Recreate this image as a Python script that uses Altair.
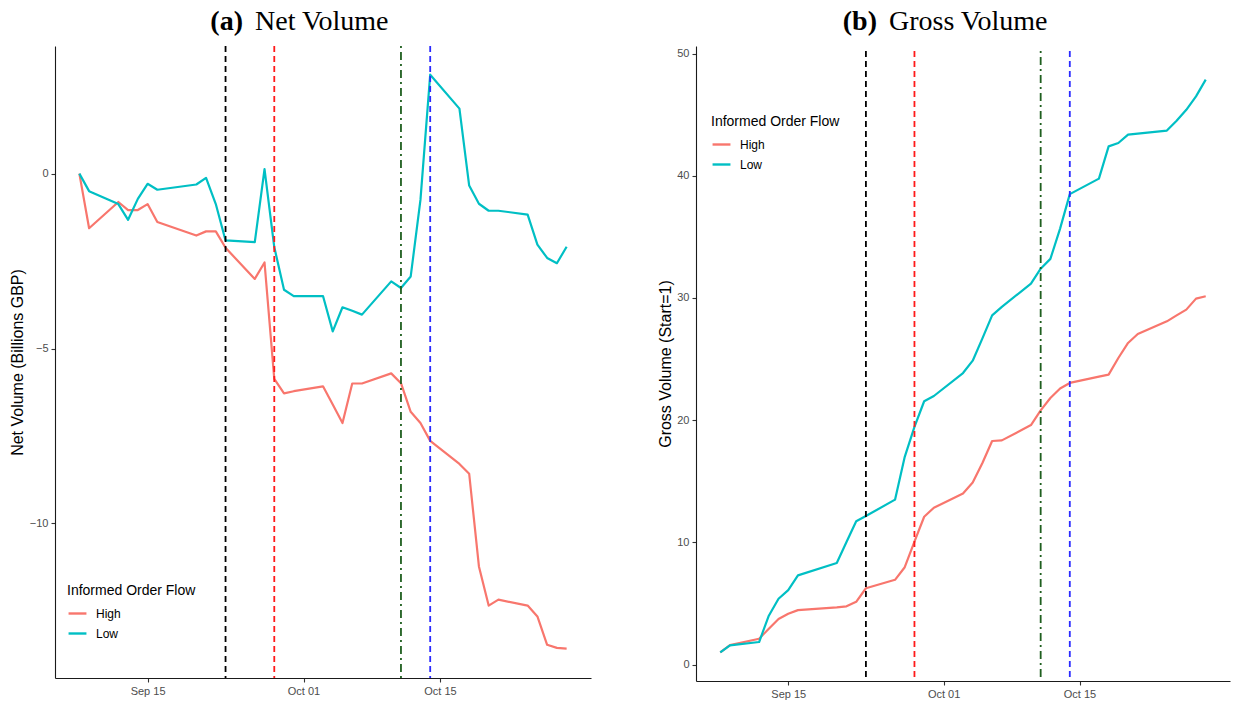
import altair as alt
import pandas as pd

# ---------------- data ----------------
dates = ["2022-09-08", "2022-09-09", "2022-09-12", "2022-09-13", "2022-09-14",
         "2022-09-15", "2022-09-16", "2022-09-20", "2022-09-21", "2022-09-22",
         "2022-09-23", "2022-09-26", "2022-09-27", "2022-09-28", "2022-09-29",
         "2022-09-30", "2022-10-03", "2022-10-04", "2022-10-05", "2022-10-06",
         "2022-10-07", "2022-10-10", "2022-10-11", "2022-10-12", "2022-10-13",
         "2022-10-14", "2022-10-17", "2022-10-18", "2022-10-19", "2022-10-20",
         "2022-10-21", "2022-10-24", "2022-10-25", "2022-10-26", "2022-10-27",
         "2022-10-28"]

net_high = [0.0, -1.56, -0.81, -1.04, -1.04, -0.87, -1.38, -1.77, -1.65, -1.65,
            -2.12, -3.01, -2.54, -5.87, -6.28, -6.22, -6.08, -6.60, -7.13, -6.00,
            -6.00, -5.71, -5.99, -6.81, -7.13, -7.64, -8.30, -8.58, -11.23, -12.35,
            -12.18, -12.35, -12.66, -13.47, -13.56, -13.58]
net_low = [0.0, -0.50, -0.87, -1.32, -0.72, -0.29, -0.46, -0.31, -0.12, -0.87,
           -1.91, -1.96, 0.13, -2.10, -3.32, -3.50, -3.50, -4.51, -3.82, -3.92,
           -4.03, -3.08, -3.27, -2.94, -0.75, 2.83, 1.86, -0.34, -0.86, -1.06,
           -1.06, -1.17, -2.03, -2.41, -2.56, -2.09]

gross_high = [1.0, 1.60, 2.12, 2.94, 3.73, 4.16, 4.46, 4.69, 4.77, 5.14,
              6.25, 6.94, 7.97, 10.07, 12.10, 12.84, 14.00, 14.90, 16.50, 18.30,
              18.35, 19.60, 20.80, 21.82, 22.59, 23.05, 23.57, 23.73, 25.09, 26.32,
              27.05, 28.09, 28.58, 29.05, 29.95, 30.14]
gross_low = [1.0, 1.58, 1.85, 4.00, 5.39, 6.10, 7.30, 8.31, 10.03, 11.73,
             12.16, 13.50, 17.00, 19.45, 21.55, 21.98, 23.86, 24.87, 26.70, 28.58,
             29.27, 31.18, 32.40, 33.20, 35.68, 38.50, 39.77, 42.41, 42.68, 43.37,
             43.45, 43.70, 44.50, 45.40, 46.50, 47.87]

groups = ["High", "Low"]
event_dates = ["2022-09-23", "2022-09-28", "2022-10-11", "2022-10-14"]
x_tick_dates = ["2022-09-15", "2022-10-01", "2022-10-15"]
net_ticks = [0, -5, -10]
gross_ticks = [0, 10, 20, 30, 40, 50]
panel_tags = ["(a)", "(b)"]
panel_names = ["Net Volume", "Gross Volume"]
y_titles = ["Net Volume (Billions GBP)", "Gross Volume (Start=1)"]
legend_title = "Informed Order Flow"

# ---------------- styling ----------------
COLORS = ["#F8766D", "#00BFC4"]
EVENT_STYLES = [("#000000", [6, 4]), ("#FF1A1A", [6, 4]),
                ("#1F5F1F", [2, 4, 8, 4]), ("#2A2AFF", [6, 4])]
FONT = "Liberation Sans"
SERIF = "Liberation Serif"


def to_dt(s, hours=0):
    y, m, d = (int(p) for p in s.split("-"))
    return alt.DateTime(year=y, month=m, date=d, hours=hours)


X_DOMAIN = [to_dt("2022-09-05", 12), to_dt("2022-10-30", 12)]


def long_frame(high, low):
    rows = []
    for g, vals in zip(groups, [high, low]):
        for d, v in zip(dates, vals):
            rows.append({"date": d + "T00:00:00", "group": g, "value": v})
    return pd.DataFrame(rows)


def panel(high, low, ydomain, yticks, ytitle, tag, name, width, height,
          legend_xy, rule_span=None, title_pos=(0, 0), title_pad=4):
    df = long_frame(high, low)
    x = alt.X("date:T", title=None,
              scale=alt.Scale(domain=X_DOMAIN, nice=False),
              axis=alt.Axis(values=[to_dt(s) for s in x_tick_dates],
                            format="%b %d", labelAngle=0))
    lines = alt.Chart(df).mark_line(strokeWidth=2.2, strokeJoin="round").encode(
        x=x,
        y=alt.Y("value:Q", title=ytitle,
                scale=alt.Scale(domain=ydomain, nice=False, zero=False),
                axis=alt.Axis(values=yticks, titlePadding=title_pad)),
        color=alt.Color("group:N",
                        scale=alt.Scale(domain=groups, range=COLORS),
                        legend=alt.Legend(title=legend_title, orient="none",
                                          legendX=legend_xy[0], legendY=legend_xy[1],
                                          symbolType="stroke", symbolStrokeWidth=2.4,
                                          symbolSize=320, titleFontSize=14,
                                          titleFontWeight="normal", titleFont=FONT,
                                          titleColor="#000000", labelFont=FONT,
                                          labelFontSize=12, labelColor="#000000",
                                          labelOffset=8, rowPadding=3,
                                          titlePadding=5)),
        order=alt.Order("group:N"),
    )
    layers = [lines]
    for d, (c, dash) in zip(event_dates, EVENT_STYLES):
        enc = {"x": alt.X("date:T")}
        if rule_span is not None:
            enc["y"] = alt.datum(rule_span[1])
            enc["y2"] = alt.datum(rule_span[0])
        rule = alt.Chart(pd.DataFrame({"date": [d + "T00:00:00"]})).mark_rule(
            color=c, strokeDash=dash, strokeWidth=1.8).encode(**enc)
        layers.append(rule)
    t1 = alt.Chart(pd.DataFrame({"t": [tag]})).mark_text(
        font=SERIF, fontSize=28, fontWeight="bold", align="right",
        baseline="alphabetic", color="#000000").encode(
        text="t:N", x=alt.value(title_pos[0]), y=alt.value(title_pos[1]))
    t2 = alt.Chart(pd.DataFrame({"t": [name]})).mark_text(
        font=SERIF, fontSize=28, align="left", baseline="alphabetic",
        color="#000000").encode(
        text="t:N", x=alt.value(title_pos[0] + 12), y=alt.value(title_pos[1]))
    layers += [t1, t2]
    return alt.layer(*layers).properties(width=width, height=height)


left = panel(net_high, net_low, [-14.42, 3.65], net_ticks, y_titles[0],
             panel_tags[0], panel_names[0], 536, 632, (12, 538),
             title_pos=(188, -16), title_pad=4)
right = panel(gross_high, gross_low, [-1.34, 50.62], gross_ticks, y_titles[1],
              panel_tags[1], panel_names[1], 534, 635, (15, 69),
              rule_span=(-1.34, 50.21), title_pos=(181, -16), title_pad=3)

chart = alt.hconcat(left, right, spacing=105, bounds="flush").resolve_scale(
    color="independent", y="independent"
).properties(
    padding={"left": 9, "top": 8, "right": 1, "bottom": 2},
    background="white",
).configure_view(stroke=None).configure_axis(
    grid=False, domainColor="#1a1a1a", domainWidth=1.1, tickColor="#333333",
    tickSize=4, tickWidth=1.1, labelColor="#4D4D4D", labelFont=FONT,
    labelFontSize=11, labelPadding=3, titleFont=FONT, titleFontSize=16,
    titleFontWeight="normal", titleColor="#000000",
)

chart.save("out.html", embed_options={"renderer": "svg", "actions": False})
